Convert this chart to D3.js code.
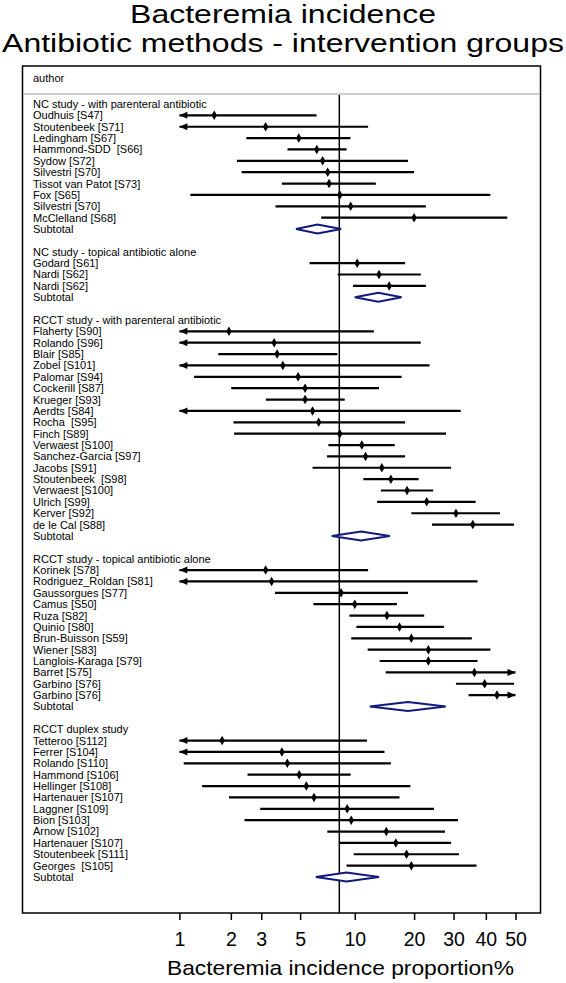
<!DOCTYPE html>
<html><head><meta charset="utf-8">
<script src="https://cdn.jsdelivr.net/npm/d3@7/dist/d3.min.js"></script>
<style>body{margin:0;background:#fff}svg{display:block}text{font-family:"Liberation Sans",Arial,Helvetica,sans-serif;white-space:pre}</style>
</head><body>
<svg id="c" width="566" height="983"></svg>
<script>
// ---------- data ----------
const groupNames = [
  "NC study - with parenteral antibiotic",
  "NC study - topical antibiotic alone",
  "RCCT study - with parenteral antibiotic",
  "RCCT study - topical antibiotic alone",
  "RCCT duplex study"
];
const g1Labels = ["Oudhuis [S47]","Stoutenbeek [S71]","Ledingham [S67]","Hammond-SDD  [S66]","Sydow [S72]","Silvestri [S70]","Tissot van Patot [S73]","Fox [S65]","Silvestri [S70]","McClelland [S68]"];
const g1Est = [1.6, 3.18, 4.91, 6.2, 6.68, 7.12, 7.25, 8.3, 9.5, 20.0];
const g1Lo  = [0.5, 0.6, 2.46, 4.24, 2.17, 2.31, 3.94, 1.16, 3.62, 6.56];
const g1Hi  = [6.18, 11.76, 9.48, 9.03, 18.7, 20.0, 12.9, 41.5, 22.7, 47.2];

const g2Labels = ["Godard [S61]","Nardi [S62]","Nardi [S62]"];
const g2Est = [10.3, 13.4, 15.1];
const g2Lo  = [5.65, 8.09, 9.78];
const g2Hi  = [18.1, 21.5, 22.7];

const g3Labels = ["Flaherty [S90]","Rolando [S96]","Blair [S85]","Zobel [S101]","Palomar [S94]","Cockerill [S87]","Krueger [S93]","Aerdts [S84]","Rocha  [S95]","Finch [S89]","Verwaest [S100]","Sanchez-Garcia [S97]","Jacobs [S91]","Stoutenbeek  [S98]","Verwaest [S100]","Ulrich [S99]","Kerver [S92]","de le Cal [S88]"];
const g3Est = [1.95, 3.56, 3.7, 3.99, 4.87, 5.33, 5.33, 5.87, 6.35, 8.3, 10.9, 11.4, 13.85, 15.4, 18.5, 22.9, 30.7, 35.8];
const g3Lo  = [0.5, 0.5, 1.69, 0.5, 1.22, 2.01, 3.19, 0.5, 2.07, 2.09, 7.19, 7.06, 5.87, 11.1, 13.7, 13.1, 19.4, 24.2];
const g3Hi  = [12.6, 21.5, 8.05, 23.6, 17.4, 13.4, 8.83, 32.1, 18.1, 27.9, 16.1, 18.1, 29.3, 21.0, 24.5, 36.7, 44.7, 49.5];

const g4Labels = ["Korinek [S78]","Rodriguez_Roldan [S81]","Gaussorgues [S77]","Camus [S50]","Ruza [S82]","Quinio [S80]","Brun-Buisson [S59]","Wiener [S83]","Langlois-Karaga [S79]","Barret [S75]","Garbino [S76]","Garbino [S76]"];
const g4Est = [3.18, 3.44, 8.44, 10.0, 14.7, 17.0, 19.4, 23.3, 23.3, 36.3, 39.6, 43.7];
const g4Lo  = [0.5, 0.5, 3.6, 5.93, 9.36, 10.2, 9.57, 11.7, 13.5, 14.5, 30.7, 34.5];
const g4Hi  = [11.76, 37.3, 18.7, 16.5, 22.3, 27.3, 35.5, 41.5, 37.3, 60, 49.5, 60];

const g5Labels = ["Tetteroo [S112]","Ferrer [S104]","Rolando [S110]","Hammond [S106]","Hellinger [S108]","Hartenauer [S107]","Laggner [S109]","Bion [S103]","Arnow [S102]","Hartenauer [S107]","Stoutenbeek [S111]","Georges  [S105]"];
const g5Est = [1.78, 3.94, 4.23, 4.94, 5.42, 5.98, 9.1, 9.57, 14.6, 16.3, 18.4, 19.4];
const g5Lo  = [0.5, 0.5, 1.06, 2.5, 1.36, 1.95, 2.96, 2.4, 7.09, 8.25, 9.87, 9.03];
const g5Hi  = [11.6, 14.3, 15.4, 9.5, 19.2, 17.0, 24.7, 31.3, 27.6, 29.3, 31.6, 37.0];

const subtotalEst = [6.26, 13.3, 10.8, 18.7, 9.03];
const subtotalLo  = [4.74, 10.0, 7.5, 12.0, 6.12];
const subtotalHi  = [8.44, 17.4, 15.2, 27.8, 13.4];
const overallEst = 8.25;

const tickValues = [1, 2, 3, 5, 10, 20, 30, 40, 50];
const titleLines = ["Bacteremia incidence", "Antibiotic methods - intervention groups"];
const xTitle = "Bacteremia incidence proportion%";
const headerLabel = "author";

// ---------- build rows ----------
const groupData = [
  [g1Labels, g1Est, g1Lo, g1Hi],
  [g2Labels, g2Est, g2Lo, g2Hi],
  [g3Labels, g3Est, g3Lo, g3Hi],
  [g4Labels, g4Est, g4Lo, g4Hi],
  [g5Labels, g5Est, g5Lo, g5Hi]
];
const rows = [];
groupData.forEach((g, gi) => {
  rows.push({type: "header", label: groupNames[gi]});
  g[0].forEach((lab, i) => rows.push({type: "study", label: lab, est: g[1][i], lo: g[2][i], hi: g[3][i]}));
  rows.push({type: "subtotal", label: "Subtotal", est: subtotalEst[gi], lo: subtotalLo[gi], hi: subtotalHi[gi]});
  if (gi < groupData.length - 1) rows.push({type: "blank"});
});
rows.forEach((r, i) => r.idx = i);

// ---------- scales ----------
const logit = p => Math.log((p / 100) / (1 - p / 100));
const xMin = 1, xMax = 50;
const xs = d3.scaleLinear().domain([logit(xMin), logit(xMax)]).range([179.4, 515.5]);
const x = v => xs(logit(v));
const y = d3.scaleLinear().domain([0, rows.length - 1]).range([104, 877]);

const frame = {l: 22.5, r: 540.5, t: 66, b: 913};
const svg = d3.select("#c");

// title
svg.append("g").selectAll("text").data(titleLines).join("text")
  .attr("transform", (d, i) => `translate(283,${23 + i * 29}) scale(1.28,1)`)
  .attr("text-anchor", "middle").attr("font-size", 25).attr("fill", "#000")
  .text(d => d);

// frame
svg.append("rect").attr("x", frame.l).attr("y", frame.t)
  .attr("width", frame.r - frame.l).attr("height", frame.b - frame.t)
  .attr("fill", "none").attr("stroke", "#000").attr("stroke-width", 1.5);
svg.append("line").attr("x1", frame.l + 1).attr("x2", frame.r - 1)
  .attr("y1", 94).attr("y2", 94).attr("stroke", "#bdbdbd").attr("stroke-width", 1.5);
svg.append("text").attr("x", 33).attr("y", 78).attr("dy", "0.35em")
  .attr("font-size", 11).text(headerLabel);

// reference line
svg.append("line").attr("x1", x(overallEst)).attr("x2", x(overallEst))
  .attr("y1", 95).attr("y2", frame.b).attr("stroke", "#000").attr("stroke-width", 1.5);

// labels
svg.append("g").selectAll("text").data(rows.filter(r => r.type !== "blank")).join("text")
  .attr("x", 33).attr("y", d => y(d.idx)).attr("dy", "0.36em")
  .attr("font-size", 11).attr("fill", "#000")
  .text(d => d.label);

// study CIs
const studies = rows.filter(r => r.type === "study");
const ci = svg.append("g");
ci.selectAll("line").data(studies).join("line")
  .attr("x1", d => x(Math.max(d.lo, xMin))).attr("x2", d => x(Math.min(d.hi, xMax)))
  .attr("y1", d => y(d.idx)).attr("y2", d => y(d.idx))
  .attr("stroke", "#000").attr("stroke-width", 2.2);
// arrows
ci.selectAll("path.la").data(studies.filter(d => d.lo < xMin)).join("path").attr("class", "la")
  .attr("d", d => { const X = x(xMin), Y = y(d.idx); return `M${X},${Y}L${X + 8},${Y - 3.5}L${X + 8},${Y + 3.5}Z`; })
  .attr("fill", "#000");
ci.selectAll("path.ra").data(studies.filter(d => d.hi > xMax)).join("path").attr("class", "ra")
  .attr("d", d => { const X = x(xMax), Y = y(d.idx); return `M${X},${Y}L${X - 8},${Y - 3.5}L${X - 8},${Y + 3.5}Z`; })
  .attr("fill", "#000");
// points
ci.selectAll("path.pt").data(studies).join("path").attr("class", "pt")
  .attr("transform", d => `translate(${x(d.est)},${y(d.idx)})`)
  .attr("d", d3.symbol(d3.symbolDiamond, 26))
  .attr("fill", "#000");

// subtotal diamonds
svg.append("g").selectAll("path").data(rows.filter(r => r.type === "subtotal")).join("path")
  .attr("d", d => { const Y = y(d.idx); return `M${x(d.lo)},${Y}L${x(d.est)},${Y - 4.5}L${x(d.hi)},${Y}L${x(d.est)},${Y + 4.5}Z`; })
  .attr("fill", "#fff").attr("stroke", "#101a7a").attr("stroke-width", 2);

// axis
const axis = d3.axisBottom(xs).tickValues(tickValues.map(logit))
  .tickFormat((d, i) => tickValues[i]).tickSize(7).tickPadding(6);
const ax = svg.append("g").attr("transform", `translate(0,${frame.b})`).call(axis);
ax.select(".domain").remove();
ax.selectAll(".tick line").attr("stroke", "#000").attr("stroke-width", 1.5);
ax.selectAll(".tick text").attr("font-size", 19.5).attr("fill", "#000")
  .attr("font-family", "'Liberation Sans',Arial,sans-serif").attr("dy", "1.05em");

svg.append("text").attr("transform", `translate(340.5,975) scale(1.14,1)`)
  .attr("text-anchor", "middle").attr("font-size", 20).attr("fill", "#000").text(xTitle);
</script>
</body></html>
